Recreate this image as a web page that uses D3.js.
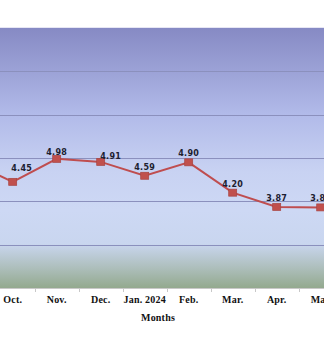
<!DOCTYPE html>
<html><head><meta charset="utf-8">
<script src="https://cdn.jsdelivr.net/npm/d3@7"></script>
<style>html,body{margin:0;padding:0;background:#fff;overflow:hidden}svg{display:block}</style>
</head><body>
<svg id="c" width="324" height="344"></svg>
<script>
const categories = ["Sep.", "Oct.", "Nov.", "Dec.", "Jan. 2024", "Feb.", "Mar.", "Apr.", "May"];
const values = [4.93, 4.45, 4.98, 4.91, 4.59, 4.90, 4.20, 3.87, 3.86];
const yTicks = [2, 3, 4, 5, 6, 7, 8];
const xTitle = "Months";

(function () {
const svg = d3.select("#c");
const W = 324;
const plotTop = 28, plotBottom = 288;
const x = d3.scaleBand().domain(categories).range([-53.3, 342.7]);
const y = d3.scaleLinear().domain([2, 8]).range([plotBottom, plotTop]);
const cx = d => x(d) + x.bandwidth() / 2;
const inView = d => cx(d) > 0;

const defs = svg.append("defs");
const g = defs.append("linearGradient").attr("id", "bg").attr("x1", 0).attr("y1", 0).attr("x2", 0).attr("y2", 1);
[[0, "#868ac4"], [0.33, "#b1bae9"], [0.55, "#c8d2f2"], [0.7, "#cdd8f4"], [0.83, "#c9d6ef"], [0.92, "#aebfbd"], [1, "#93a98e"]]
  .forEach(([o, c]) => g.append("stop").attr("offset", o).attr("stop-color", c));

svg.append("rect").attr("x", 0).attr("y", plotTop).attr("width", W).attr("height", plotBottom - plotTop).attr("fill", "url(#bg)");
svg.append("line").attr("x1", 0).attr("x2", W).attr("y1", plotTop - 0.5).attr("y2", plotTop - 0.5).attr("stroke", "#e6e6f4");

svg.append("g").selectAll("line").data(yTicks.filter(t => t > 2 && t < 8)).join("line")
  .attr("x1", 0).attr("x2", W)
  .attr("y1", d => Math.round(y(d)) + 0.5).attr("y2", d => Math.round(y(d)) + 0.5)
  .attr("stroke", "#8b90bd").attr("stroke-width", 1);

const xAxis = d3.axisBottom(x).tickSize(0).tickPadding(0);
const ax = svg.append("g").attr("transform", `translate(0,${plotBottom})`).call(xAxis);
ax.select(".domain").attr("stroke", "#c8c8c8");
ax.selectAll(".tick").filter(d => !inView(d)).remove();
ax.selectAll(".tick text").attr("dy", "1.45em").attr("fill", "#111")
  .style("font-family", "'Liberation Serif', serif").style("font-weight", "bold").style("font-size", "10px")
  .style("letter-spacing", "0.2px");
svg.append("g").selectAll("line").data(categories.slice(1)).join("line")
  .attr("x1", d => Math.round(x(d)) + 0.5).attr("x2", d => Math.round(x(d)) + 0.5)
  .attr("y1", plotBottom).attr("y2", plotBottom + 4).attr("stroke", "#c8c8c8");

svg.append("text").attr("x", 158).attr("y", 321).attr("text-anchor", "middle")
  .style("font-family", "'Liberation Serif', serif").style("font-weight", "bold").style("font-size", "10px")
  .style("letter-spacing", "0.2px")
  .attr("fill", "#111").text(xTitle);

const data = categories.map((c, i) => ({ c, v: values[i] }));

svg.append("path").datum(data)
  .attr("d", d3.line().x(d => cx(d.c)).y(d => y(d.v)))
  .attr("fill", "none").attr("stroke", "#bf4d4f").attr("stroke-width", 2);

svg.append("g").selectAll("rect").data(data).join("rect")
  .attr("x", d => cx(d.c) - 4).attr("y", d => y(d.v) - 3.5).attr("width", 8).attr("height", 7)
  .attr("fill", "#c0504d").attr("stroke", "#a84442").attr("stroke-width", 0.7);

const nudge = { "Oct.": [9, -5], "Nov.": [0, 2], "Dec.": [10, 3] };
svg.append("g").selectAll("text").data(data.filter(d => inView(d.c))).join("text")
  .attr("x", d => cx(d.c) + (nudge[d.c] ? nudge[d.c][0] : 0))
  .attr("y", d => y(d.v) - 6 + (nudge[d.c] ? nudge[d.c][1] : 0))
  .attr("text-anchor", "middle")
  .style("font-family", "'DejaVu Sans', sans-serif").style("font-weight", "bold").style("font-size", "8px")
  .style("letter-spacing", "0.3px")
  .attr("fill", "#1c2030").text(d => d.v.toFixed(2));
})();
</script>
</body></html>
